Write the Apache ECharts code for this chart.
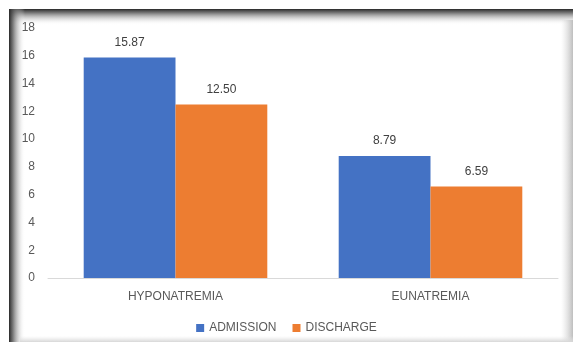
<!DOCTYPE html>
<html><head><meta charset="utf-8">
<script src="https://cdn.jsdelivr.net/npm/echarts@6/dist/echarts.min.js"></script>
<style>html,body{margin:0;padding:0;background:#fff}#c{width:573px;height:342px}</style>
</head><body><div id="c"></div>
<script>
const categories = ['HYPONATREMIA', 'EUNATREMIA'];
const admission = [15.87, 8.79];
const discharge = [12.50, 6.59];
const yTicks = [0, 2, 4, 6, 8, 10, 12, 14, 16, 18];

const chart = echarts.init(document.getElementById('c'), null, {renderer: 'canvas'});
const txt = {color: '#595959', fontFamily: 'Liberation Sans, Arial, sans-serif', fontSize: 12};
const lbl = {show: true, position: 'top', distance: 9, color: '#404040', fontFamily: txt.fontFamily, fontSize: 12, formatter: p => p.value.toFixed(2)};
function grad(x0,y0,x1,y1,stops){return new echarts.graphic.LinearGradient(x0,y0,x1,y1,stops);}
chart.setOption({
  animation: false,
  backgroundColor: '#fff',
  graphic: [
    {type:'rect', shape:{x:9,y:9,width:564,height:16}, style:{fill: grad(0,0,0,1,[{offset:0,color:'rgba(40,40,40,1)'},{offset:0.25,color:'rgba(90,90,90,0.8)'},{offset:1,color:'rgba(255,255,255,0)'}])}, silent:true, z:-1},
    {type:'rect', shape:{x:9,y:9,width:16,height:333}, style:{fill: grad(0,0,1,0,[{offset:0,color:'rgba(40,40,40,1)'},{offset:0.25,color:'rgba(90,90,90,0.8)'},{offset:1,color:'rgba(255,255,255,0)'}])}, silent:true, z:-1},
    {type:'rect', shape:{x:561,y:20,width:12,height:322}, style:{fill: grad(0,0,1,0,[{offset:0,color:'rgba(220,220,220,0)'},{offset:1,color:'rgba(190,190,190,1)'}])}, silent:true, z:-1},
    {type:'rect', shape:{x:20,y:336,width:553,height:6}, style:{fill: grad(0,0,0,1,[{offset:0,color:'rgba(230,230,230,0)'},{offset:1,color:'rgba(215,215,215,1)'}])}, silent:true, z:-1}
  ],
  grid: {left: 48, right: 15, top: 28, bottom: 64, containLabel: false},
  legend: {
    bottom: 3, left: 'center', itemWidth: 8, itemHeight: 8, itemGap: 16, icon: 'rect',
    textStyle: {color: '#595959', fontFamily: txt.fontFamily, fontSize: 12},
    data: ['ADMISSION', 'DISCHARGE']
  },
  xAxis: {
    type: 'category', data: categories,
    axisLine: {lineStyle: {color: '#d9d9d9', width: 1}},
    axisTick: {show: false},
    axisLabel: {...txt, margin: 13}
  },
  yAxis: {
    type: 'value', min: 0, max: 18, interval: 2,
    axisLine: {show: false}, axisTick: {show: false},
    splitLine: {show: false},
    axisLabel: {...txt, margin: 13, formatter: v => yTicks.includes(v) ? String(v) : ''}
  },
  series: [
    {name: 'ADMISSION', type: 'bar', data: admission, barGap: '0%', barCategoryGap: '28%', itemStyle: {color: '#4472c4'}, label: lbl},
    {name: 'DISCHARGE', type: 'bar', data: discharge, itemStyle: {color: '#ed7d31'}, label: lbl}
  ]
});
</script></body></html>
